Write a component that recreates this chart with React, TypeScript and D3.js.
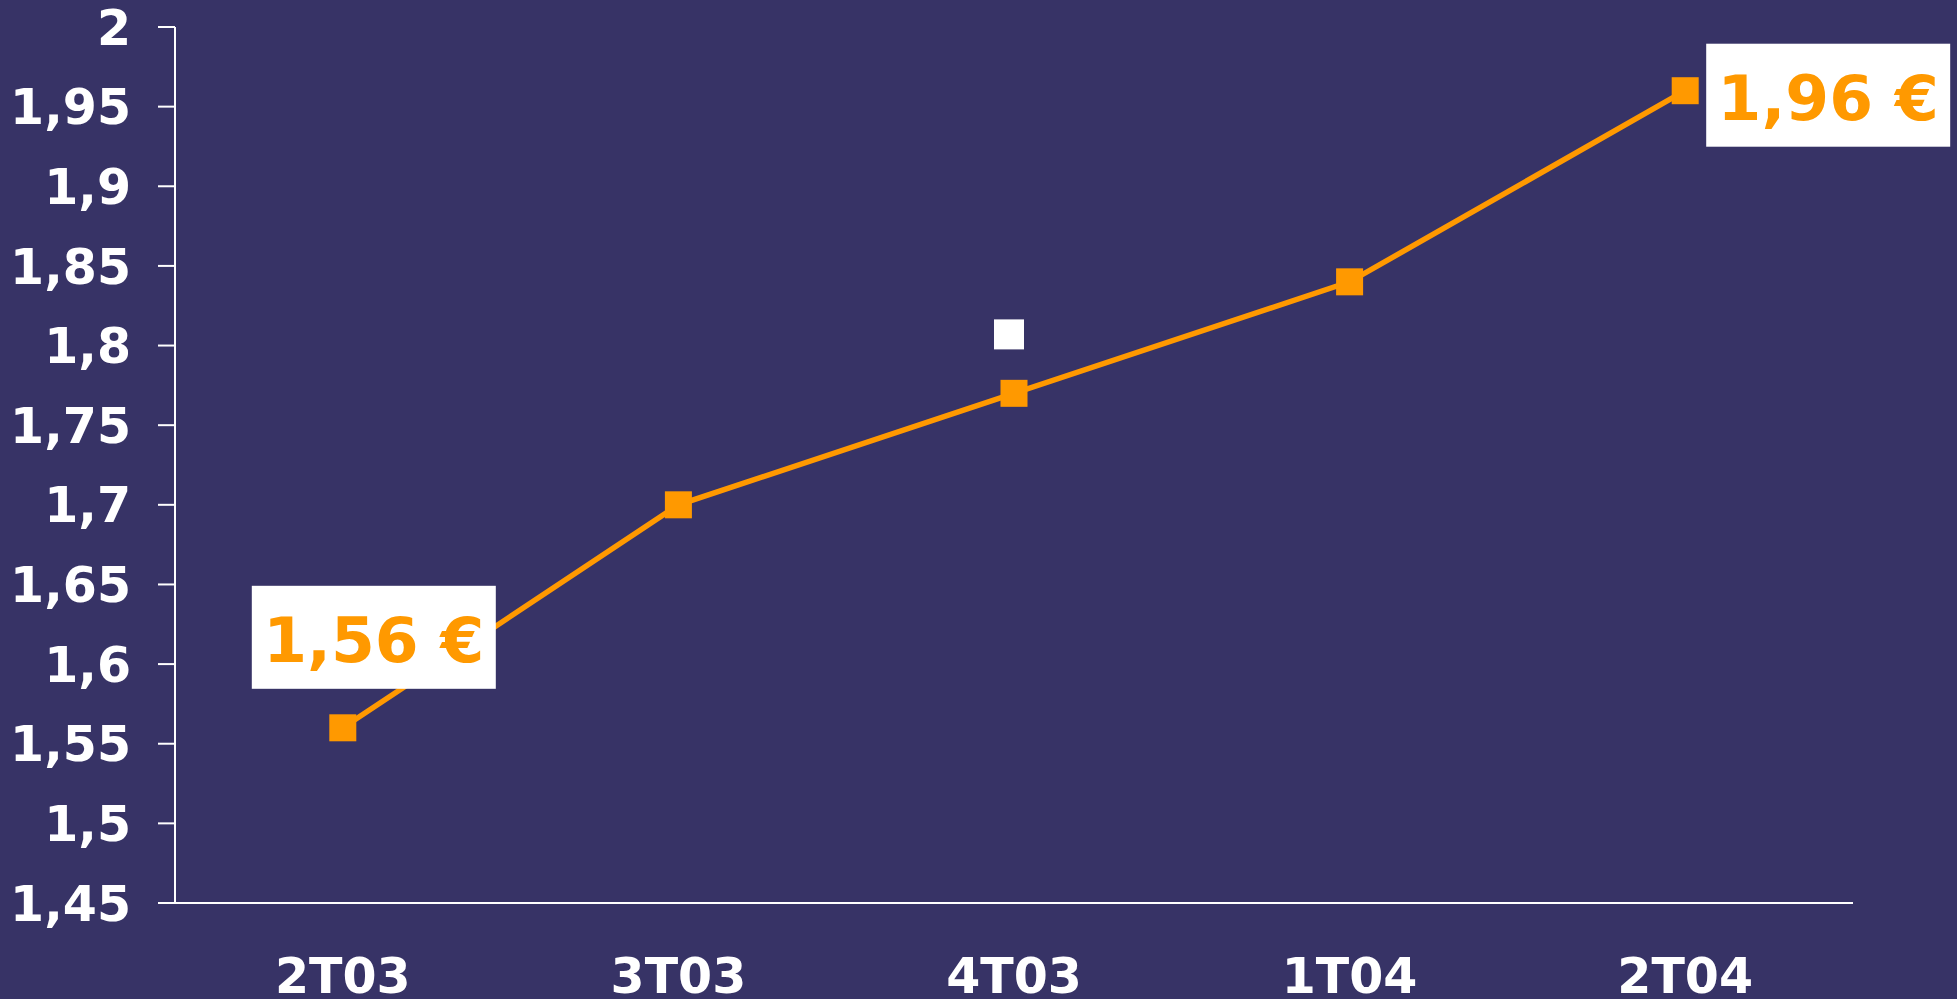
import React from "react";
import * as d3 from "d3";

const categories = ["2T03", "3T03", "4T03", "1T04", "2T04"];
const values = [1.56, 1.7, 1.77, 1.84, 1.96];
const extraCategory = "4T03";
const extraValue = 1.807;
const yTicks = [1.45, 1.5, 1.55, 1.6, 1.65, 1.7, 1.75, 1.8, 1.85, 1.9, 1.95, 2];
const calloutLabels = ["1,56 €", "1,96 €"];

const W = 1957;
const H = 999;
const BG = "#373366";
const ORANGE = "#FF9900";
const FONT = "'DejaVu Sans', Verdana, sans-serif";

export default function App() {
  const x = d3.scaleBand<string>().domain(categories).range([175, 1853]);
  const y = d3.scaleLinear().domain([1.45, 2]).range([903, 27]);
  const cx = (c: string) => (x(c) as number) + x.bandwidth() / 2;
  const fmt = (v: number) => String(v).replace(".", ",");
  const line = d3
    .line<number>()
    .x((_, i) => cx(categories[i]))
    .y((v) => y(v));
  const m = 27;

  const p0 = { x: cx(categories[0]), y: y(values[0]) };
  const pN = { x: cx(categories[4]), y: y(values[4]) };

  return (
    <svg
      width={W}
      height={H}
      style={{ position: "absolute", left: 0, top: 0, background: BG, display: "block" }}
    >
      <rect x={0} y={0} width={W} height={H} fill={BG} />
      {/* axes */}
      <line x1={175} x2={175} y1={y(2)} y2={y(1.45)} stroke="#fff" strokeWidth={2} />
      <line x1={158} x2={1853} y1={y(1.45)} y2={y(1.45)} stroke="#fff" strokeWidth={2} />
      {yTicks.map((t) => (
        <g key={t}>
          <line x1={158} x2={175} y1={y(t)} y2={y(t)} stroke="#fff" strokeWidth={2} />
          <text
            x={131}
            y={y(t)}
            dy="0.36em"
            textAnchor="end"
            fill="#fff"
            fontFamily={FONT}
            fontWeight="bold"
            fontSize={49}
          >
            {fmt(t)}
          </text>
        </g>
      ))}
      {categories.map((c) => (
        <text
          key={c}
          x={cx(c)}
          y={993}
          textAnchor="middle"
          fill="#fff"
          fontFamily={FONT}
          fontWeight="bold"
          fontSize={49}
        >
          {c}
        </text>
      ))}
      {/* series */}
      <path d={line(values) as string} fill="none" stroke={ORANGE} strokeWidth={5.5} />
      {values.map((v, i) => (
        <rect
          key={i}
          x={cx(categories[i]) - m / 2}
          y={y(v) - m / 2}
          width={m}
          height={m}
          fill={ORANGE}
        />
      ))}
      <rect
        x={cx(extraCategory) - 5 - 15}
        y={y(extraValue) - 15}
        width={30}
        height={30}
        fill="#fff"
      />
      {/* callouts */}
      <rect x={p0.x - 91} y={p0.y - 142} width={244} height={103} fill="#fff" />
      <text
        x={p0.x - 91 + 122}
        y={p0.y - 66}
        textAnchor="middle"
        fill={ORANGE}
        fontFamily={FONT}
        fontWeight="bold"
        fontSize={63}
      >
        {calloutLabels[0]}
      </text>
      <rect x={pN.x + 21} y={pN.y - 47} width={244} height={103} fill="#fff" />
      <text
        x={pN.x + 21 + 122}
        y={pN.y + 29}
        textAnchor="middle"
        fill={ORANGE}
        fontFamily={FONT}
        fontWeight="bold"
        fontSize={63}
      >
        {calloutLabels[1]}
      </text>
    </svg>
  );
}
